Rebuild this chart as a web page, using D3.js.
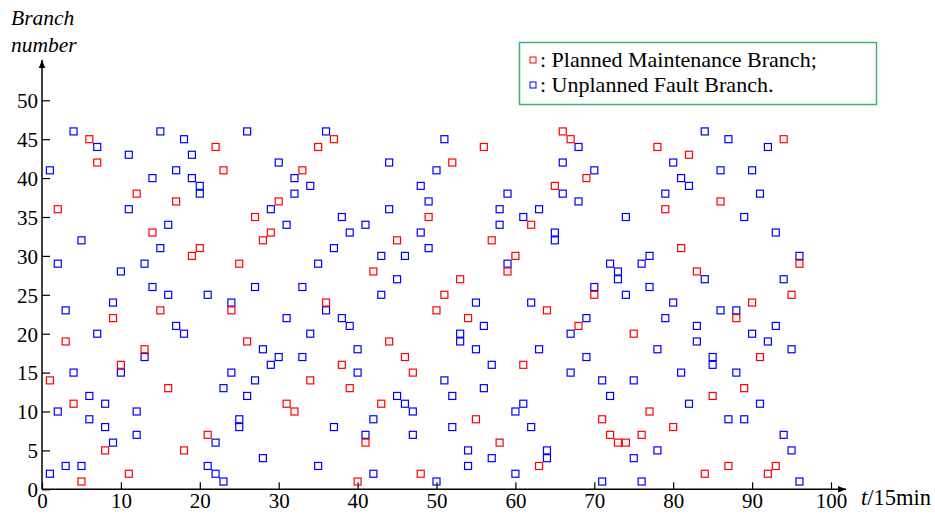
<!DOCTYPE html>
<html>
<head>
<meta charset="utf-8">
<script src="https://cdn.jsdelivr.net/npm/d3@7"></script>
<style>
body{margin:0;background:#fff;}
text{font-family:"Liberation Serif","Times New Roman",serif;}
</style>
</head>
<body>
<div id="canvas"></div>
<script>
// time steps 1..96 (x 15 min)
var steps = d3.range(1, 97);

// one planned maintenance branch per step
var plannedBranch = [14,36,19,11,1,45,42,5,22,16,2,38,18,33,23,13,37,5,30,31,7,44,41,23,29,19,35,32,33,37,11,10,41,14,44,24,45,16,13,1,6,28,11,19,32,17,15,2,35,23,25,42,27,22,9,44,32,6,28,30,16,34,3,23,39,46,45,21,40,25,9,7,6,6,20,7,10,44,36,8,31,43,28,2,12,37,3,22,13,24,17,2,3,45,25,29];

// two unplanned fault branches per step
var faultBranchA = [41,29,23,46,32,12,44,11,24,28,43,10,29,40,46,34,41,45,43,39,25,6,13,24,9,46,26,18,36,42,34,40,26,39,29,46,31,35,33,18,34,9,30,42,27,30,10,39,37,41,45,12,20,5,24,21,16,36,38,10,35,24,36,5,33,42,20,44,22,41,14,29,28,35,14,29,30,18,38,42,40,39,21,46,17,41,45,23,35,41,38,44,33,27,18,30];
var faultBranchB = [2,10,3,15,3,9,20,8,6,15,36,7,17,26,31,25,21,20,40,38,3,2,1,15,8,12,14,4,16,17,22,38,17,20,3,23,8,22,21,15,7,2,25,36,12,11,7,33,31,1,14,8,19,3,18,13,4,34,29,2,11,8,18,4,32,38,15,37,17,26,1,12,27,25,4,1,26,5,22,24,15,11,19,27,16,23,9,15,9,20,11,19,21,7,5,1];

var xTicks = d3.range(0, 101, 10),
    yTicks = d3.range(0, 51, 5);

var legendLabels = [': Planned Maintenance Branch;', ': Unplanned Fault Branch.'];
var red = '#ff0000', blue = '#0000ff';

var W = 935, H = 514;
var svg = d3.select('#canvas').append('svg')
    .attr('width', W)
    .attr('height', H);

var x = d3.scaleLinear().domain([0, 100]).range([42, 831]);
var y = d3.scaleLinear().domain([0, 50]).range([489.3, 100.3]);

var defs = svg.append('defs');
defs.append('marker')
    .attr('id', 'arrow')
    .attr('viewBox', '0 0 10 10')
    .attr('refX', 10).attr('refY', 5)
    .attr('markerWidth', 8).attr('markerHeight', 8)
    .attr('markerUnits', 'userSpaceOnUse')
    .attr('orient', 'auto')
    .append('path')
    .attr('d', 'M0,1 L10,5 L0,9 Z')
    .attr('fill', '#000');

// axes
var xAxis = d3.axisBottom(x).tickValues(xTicks).tickSize(-7).tickPadding(8).tickSizeOuter(0);
var yAxis = d3.axisLeft(y).tickValues(yTicks).tickSize(-8).tickPadding(4).tickSizeOuter(0);

var gx = svg.append('g').attr('transform', 'translate(0,' + y(0) + ')').call(xAxis);
var gy = svg.append('g').attr('transform', 'translate(' + x(0) + ',0)').call(yAxis);

[gx, gy].forEach(function(g){
    g.select('.domain').remove();
    g.selectAll('.tick line').attr('stroke', '#000').attr('stroke-width', 1.2);
    g.selectAll('.tick text')
        .attr('font-size', 21)
        .attr('fill', '#000');
});
gx.selectAll('.tick text').attr('dy', '0.5em');
gy.selectAll('.tick text').attr('dy', '0.35em');

svg.append('line')
    .attr('x1', x(0)).attr('y1', y(0))
    .attr('x2', 846).attr('y2', y(0))
    .attr('stroke', '#000').attr('stroke-width', 1.5)
    .attr('marker-end', 'url(#arrow)');
svg.append('line')
    .attr('x1', x(0)).attr('y1', y(0))
    .attr('x2', x(0)).attr('y2', 60)
    .attr('stroke', '#000').attr('stroke-width', 1.5)
    .attr('marker-end', 'url(#arrow)');

// axis titles
svg.append('text').attr('x', 11).attr('y', 25)
    .attr('font-size', 21.5).attr('font-style', 'italic').text('Branch');
svg.append('text').attr('x', 11).attr('y', 52)
    .attr('font-size', 21.5).attr('font-style', 'italic').text('number');
var xt = svg.append('text').attr('x', 861).attr('y', 505).attr('font-size', 22.5);
xt.append('tspan').attr('font-style', 'italic').text('t');
xt.append('tspan').text('/15min');

// points
var sz = 7;
function drawSquares(vals, color){
    svg.append('g').selectAll('rect')
        .data(steps)
        .enter().append('rect')
        .attr('x', function(d, i){ return x(d) - sz / 2; })
        .attr('y', function(d, i){ return y(vals[i]) - sz / 2; })
        .attr('width', sz).attr('height', sz)
        .attr('fill', 'none')
        .attr('stroke', color)
        .attr('stroke-width', 1.2);
}
drawSquares(faultBranchA, blue);
drawSquares(faultBranchB, blue);
drawSquares(plannedBranch, red);

// legend
var lg = svg.append('g');
lg.append('rect')
    .attr('x', 519.5).attr('y', 42.5)
    .attr('width', 357).attr('height', 62)
    .attr('fill', '#fff')
    .attr('stroke', '#3cb371').attr('stroke-width', 1.5);
[red, blue].forEach(function(c, i){
    lg.append('rect')
        .attr('x', 530).attr('y', 57 + i * 25)
        .attr('width', 6).attr('height', 6)
        .attr('fill', 'none').attr('stroke', c).attr('stroke-width', 1);
    lg.append('text')
        .attr('x', 540).attr('y', 67 + i * 25)
        .attr('font-size', 22)
        .text(legendLabels[i]);
});
</script>
</body>
</html>
